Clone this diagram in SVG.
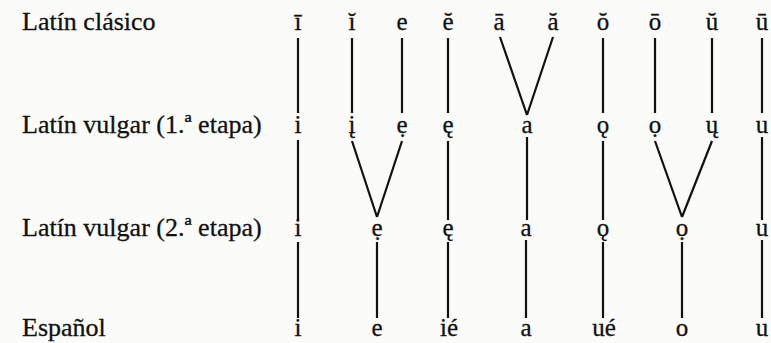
<svg xmlns="http://www.w3.org/2000/svg" width="771" height="343" viewBox="0 0 771 343">
<style>
.lbl{font-family:"Liberation Serif","DejaVu Serif",serif;font-size:26px;fill:#111;stroke:#111;stroke-width:0.3}
.v{font-family:"Liberation Serif","DejaVu Serif",serif;font-size:25px;fill:#111;stroke:#111;stroke-width:0.3;text-anchor:middle}
.c line{stroke:#111;stroke-width:2.2;stroke-linecap:butt}
</style>
<rect width="771" height="343" fill="#fbfbfa"/>
<g id="labels">
<text class="lbl" x="22" y="30">Latín clásico</text>
<text class="lbl" x="22" y="133">Latín vulgar (1.ª etapa)</text>
<text class="lbl" x="22" y="236">Latín vulgar (2.ª etapa)</text>
<text class="lbl" x="22" y="336">Español</text>
</g>
<g id="row-latin-clasico">
<text class="v" x="298" y="30">ī</text>
<text class="v" x="352" y="30">ĭ</text>
<text class="v" x="402" y="30">e</text>
<text class="v" x="448" y="30">ĕ</text>
<text class="v" x="499" y="30">ā</text>
<text class="v" x="553" y="30">ă</text>
<text class="v" x="603" y="30">ŏ</text>
<text class="v" x="655" y="30">ō</text>
<text class="v" x="712" y="30">ŭ</text>
<text class="v" x="762" y="30">ū</text>
</g>
<g id="row-latin-vulgar-1">
<text class="v" x="298" y="133">i</text>
<text class="v" x="352" y="133">į</text>
<text class="v" x="402" y="133">ẹ</text>
<text class="v" x="448" y="133">ę</text>
<text class="v" x="527" y="133">a</text>
<text class="v" x="603" y="133">ǫ</text>
<text class="v" x="655" y="133">ọ</text>
<text class="v" x="712" y="133">ų</text>
<text class="v" x="762" y="133">u</text>
</g>
<g id="row-latin-vulgar-2">
<text class="v" x="298" y="236">i</text>
<text class="v" x="377" y="236">ẹ</text>
<text class="v" x="448" y="236">ę</text>
<text class="v" x="526" y="236">a</text>
<text class="v" x="603" y="236">ǫ</text>
<text class="v" x="682" y="236">ọ</text>
<text class="v" x="762" y="236">u</text>
</g>
<g id="row-espanol">
<text class="v" x="298" y="336">i</text>
<text class="v" x="377" y="336">e</text>
<text class="v" x="449" y="336">ié</text>
<text class="v" x="526" y="336">a</text>
<text class="v" x="604" y="336">ué</text>
<text class="v" x="682" y="336">o</text>
<text class="v" x="762" y="336">u</text>
</g>
<g id="connectors" class="c">
<line x1="298" y1="38" x2="298" y2="113"/>
<line x1="352" y1="38" x2="352" y2="113"/>
<line x1="402" y1="38" x2="402" y2="113"/>
<line x1="448" y1="38" x2="448" y2="113"/>
<line x1="500" y1="37" x2="527" y2="115"/>
<line x1="553" y1="37" x2="527" y2="115"/>
<line x1="603" y1="38" x2="603" y2="113"/>
<line x1="655" y1="38" x2="655" y2="113"/>
<line x1="712" y1="38" x2="712" y2="113"/>
<line x1="762" y1="38" x2="762" y2="113"/>
<line x1="298" y1="140" x2="298" y2="220"/>
<line x1="352" y1="141" x2="377" y2="217"/>
<line x1="402" y1="141" x2="377" y2="217"/>
<line x1="448" y1="141" x2="448" y2="220"/>
<line x1="527" y1="137" x2="527" y2="220"/>
<line x1="603" y1="141" x2="603" y2="220"/>
<line x1="655" y1="141" x2="682" y2="217"/>
<line x1="712" y1="141" x2="682" y2="217"/>
<line x1="762" y1="137" x2="762" y2="220"/>
<line x1="298" y1="242" x2="298" y2="318"/>
<line x1="377" y1="242" x2="377" y2="318"/>
<line x1="448" y1="242" x2="448" y2="318"/>
<line x1="526" y1="240" x2="526" y2="318"/>
<line x1="603" y1="242" x2="603" y2="318"/>
<line x1="682" y1="242" x2="682" y2="318"/>
<line x1="762" y1="240" x2="762" y2="318"/>
</g>
</svg>
